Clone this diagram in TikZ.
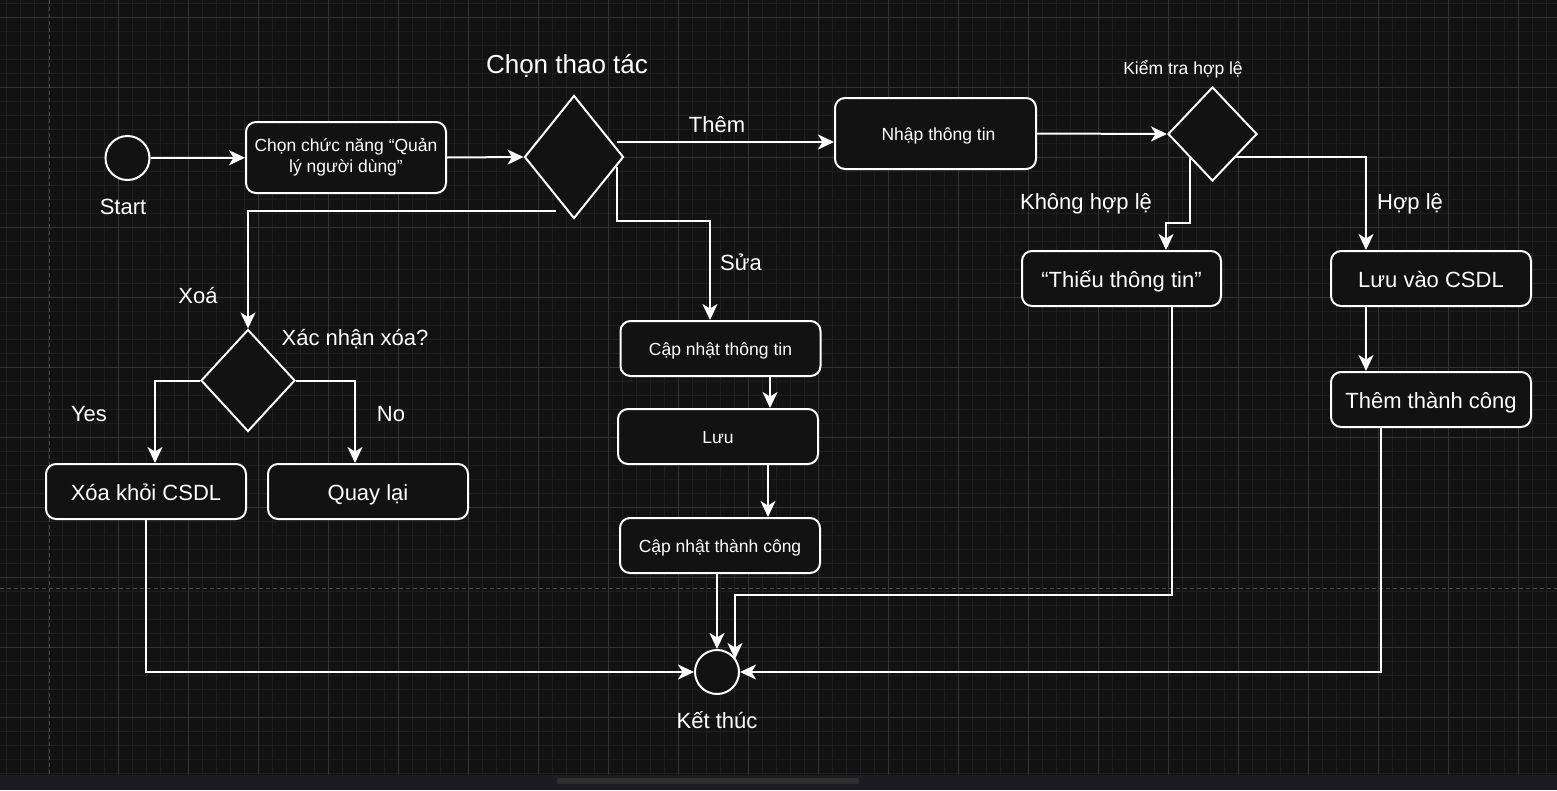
\documentclass[tikz,border=0pt]{standalone}
\usepackage{fontspec}
\setmainfont{Liberation Sans}
\usetikzlibrary{shapes.geometric,arrows.meta,calc}
\definecolor{bg}{HTML}{121212}
\definecolor{gridminor}{HTML}{1E1E1E}
\definecolor{gridmajor}{HTML}{343434}
\definecolor{pageline}{HTML}{4A4A4A}
\definecolor{barcol}{HTML}{1C1C20}
\definecolor{scrollcol}{HTML}{2E2E31}
\newcommand\fsBig{\fontsize{26}{30}\selectfont}
\newcommand\fsMid{\fontsize{22}{26}\selectfont}
\newcommand\fsSmall{\fontsize{17.5}{22}\selectfont}
\tikzset{
  box/.style={draw=white, line width=2pt, rounded corners=10pt, fill=bg,
    minimum width=200pt, minimum height=55pt, inner sep=0pt, text=white,
    font=\fsMid, align=center},
  mbox/.style={box, text height=18pt, text depth=0pt},
  sbox/.style={box, font=\fsSmall, text height=14pt, text depth=0pt},
  tbox/.style={box, font=\fsSmall},
  dia/.style={diamond, draw=white, line width=2pt, fill=bg, inner sep=0pt},
  term/.style={circle, draw=white, line width=2pt, fill=bg, minimum size=44pt, inner sep=0pt},
  lbl/.style={text=white, font=\fsMid, inner sep=0pt},
  arr/.style={draw=white, line width=2pt, -{Stealth[length=16pt,width=15pt,inset=4.5pt]}},
  minorl/.style={draw=gridminor, line width=0.8pt},
  majorl/.style={draw=gridmajor, line width=0.8pt},
  pagel/.style={draw=pageline, line width=0.8pt, dash pattern=on 4pt off 3pt}
}
\begin{document}
\begin{tikzpicture}[x=1pt,y=-1pt]
\useasboundingbox (0,0) rectangle (1557,790);
\fill[bg] (0,0) rectangle (1557,790);
% grid
\foreach \gx in {6,20,...,1556} \draw[minorl] (\gx,0) -- (\gx,775);
\foreach \gy in {3,17,...,775} \draw[minorl] (0,\gy) -- (1557,\gy);
\foreach \gx in {118,188,...,1556} \draw[majorl] (\gx,0) -- (\gx,775);
\foreach \gy in {17,87,...,775} \draw[majorl] (0,\gy) -- (1557,\gy);
\draw[pagel] (49,0) -- (49,775);
\draw[pagel] (0,588) -- (1557,588);
% bottom bar
\fill[barcol] (0,775) rectangle (1557,790);
\fill[scrollcol, rounded corners=2pt] (557,778) rectangle (859,784);

% nodes
\node[term] (start) at (127.5,158) {};
\node[lbl] (startl) at (123,207) {Start};
\node[tbox, minimum width=200pt, minimum height=71pt] (box1) at (346,157.5) {Chọn chức năng “Quản\\[-1pt]lý người dùng”};
\node[dia, minimum width=99pt, minimum height=123pt] (d1) at (574,157) {};
\node[lbl, font=\fsBig] (d1l) at (567,66) {Chọn thao tác};
\node[sbox, minimum width=201pt, minimum height=71pt] (nhap) at (935.5,133.5) {\hspace*{6pt}Nhập thông tin};
\node[dia, minimum width=89pt, minimum height=94pt] (d2) at (1212.5,134) {};
\node[lbl, font=\fsSmall] (d2l) at (1183,69) {Kiểm tra hợp lệ};
\node[mbox, minimum width=199pt] (thieu) at (1121.5,278.5) {“Thiếu thông tin”};
\node[mbox] (luu) at (1431,278.5) {Lưu vào CSDL};
\node[mbox] (them) at (1431,399.5) {Thêm thành công};
\node[sbox] (capnhat) at (720.5,348.5) {Cập nhật thông tin};
\node[sbox] (luu2) at (718,436.5) {Lưu};
\node[sbox] (capthanh) at (720,545.5) {Cập nhật thành công};
\node[term] (end) at (717,672) {};
\node[lbl] (endl) at (717,720) {Kết thúc};
\node[dia, minimum width=94pt, minimum height=102pt] (d3) at (248,380.5) {};
\node[lbl] (d3l) at (355,339) {Xác nhận xóa?};
\node[mbox] (xoa) at (146,491.5) {Xóa khỏi CSDL};
\node[mbox] (quay) at (368,491.5) {Quay lại};

% edge labels
\node[lbl] (lthem) at (717,125) {Thêm};
\node[lbl] (lsua) at (741,262) {Sửa};
\node[lbl] (lxoa) at (198,296) {Xoá};
\node[lbl] (lkhong) at (1086,204) {Không hợp lệ};
\node[lbl] (lhop) at (1410,204) {Hợp lệ};
\node[lbl] (lyes) at (89,414) {Yes};
\node[lbl] (lno) at (391,414) {No};

% coordinates
\coordinate (t0) at (617,142);
\coordinate (k0) at (1190,157);
\coordinate (k1) at (1166,223);
\coordinate (h0) at (1235,157);
\coordinate (h1) at (1366,157);
\coordinate (e1) at (1381,672);
\coordinate (f1) at (1172,595);
\coordinate (f2) at (735,595);
\coordinate (f3) at (735,659);
\coordinate (x0) at (556,211);
\coordinate (s0) at (617,167);
\coordinate (s1) at (710,221);
\coordinate (c1) at (770,0);
\coordinate (c2) at (768,0);
\coordinate (y1) at (155,0);
\coordinate (n1) at (355,0);

% connectors
\draw[arr] (start) -- (box1);
\draw[arr] (box1.east) -- (d1.west);
\draw[arr] (t0) -- (t0 -| nhap.west);
\draw[arr] (nhap.east) -- (d2.west);
\draw[arr] (k0) |- (k1) -- (k1 |- thieu.north);
\draw[arr] (h0) -- (h1) -- (h1 |- luu.north);
\draw[arr] (h1 |- luu.south) -- (h1 |- them.north);
\draw[arr] (e1 |- them.south) -- (e1) -- (end.east);
\draw[arr] (f1 |- thieu.south) -- (f1) -- (f2) -- (f3);
\draw[arr] (capthanh.south -| end.north) -- (end.north);
\draw[arr] (xoa.south) |- (end.west);
\draw[arr] (x0) -| (d3.north);
\draw[arr] (s0) |- (s1) -- (s1 |- capnhat.north);
\draw[arr] (c1 |- capnhat.south) -- (c1 |- luu2.north);
\draw[arr] (c2 |- luu2.south) -- (c2 |- capthanh.north);
\draw[arr] (d3.west) -| (y1 |- xoa.north);
\draw[arr] (d3.east) -| (n1 |- quay.north);
\end{tikzpicture}
\end{document}
